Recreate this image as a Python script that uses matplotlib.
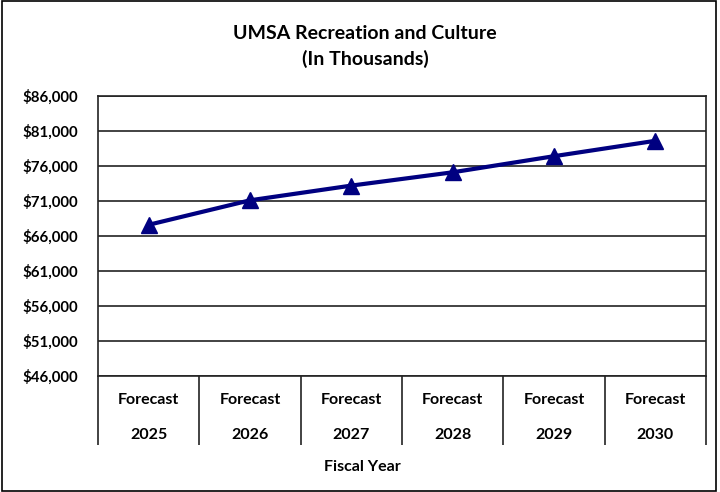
import matplotlib.pyplot as plt
from matplotlib.patches import Rectangle
from matplotlib.ticker import FixedLocator

plt.rcParams['font.family'] = ['Lato', 'DejaVu Sans']

years = ['2025', '2026', '2027', '2028', '2029', '2030']
values = [67600, 71100, 73200, 75100, 77400, 79600]
yticks = [46000, 51000, 56000, 61000, 66000, 71000, 76000, 81000, 86000]

fig = plt.figure(figsize=(7.2, 4.92), dpi=100)
ax = fig.add_axes([98/720, 1-376/492, 608/720, 280/492])

x = list(range(len(years)))
ax.plot(x, values, color='#000080', lw=3, marker='^', ms=11, zorder=3)

ax.set_xlim(-0.5, 5.5)
ax.set_ylim(46000, 86000)
ax.set_yticks(yticks)
ax.set_yticklabels(['${:,}'.format(v) for v in yticks], fontsize=10.8, fontweight='bold')
ax.yaxis.grid(True, color='#222222', lw=1.2)
ax.tick_params(axis='y', length=0, pad=14)

ax.set_xticks(x)
ax.set_xticklabels(['Forecast\n' + y for y in years], fontsize=11.5,
                   fontweight='bold', linespacing=2.95)
ax.xaxis.set_minor_locator(FixedLocator([i - 0.5 for i in range(len(years) + 1)]))
ax.tick_params(axis='x', which='major', length=0, pad=12)
ax.tick_params(axis='x', which='minor', length=50, width=1.2, color='#222222')

for s in ax.spines.values():
    s.set_color('#222222')
    s.set_linewidth(1.2)

fig.text(365/720, 1-33/492, 'UMSA Recreation and Culture', ha='center', va='center',
         fontsize=14, fontweight='bold')
fig.text(365/720, 1-59/492, '(In Thousands)', ha='center', va='center',
         fontsize=14, fontweight='bold')
fig.text(362/720, 1-467/492, 'Fiscal Year', ha='center', va='center',
         fontsize=11.5, fontweight='bold')

fig.patches.append(Rectangle((0.003, 0.002), 0.992, 0.996, transform=fig.transFigure,
                             fill=False, edgecolor='black', lw=1.2))

fig.savefig('out.png', dpi=100)
